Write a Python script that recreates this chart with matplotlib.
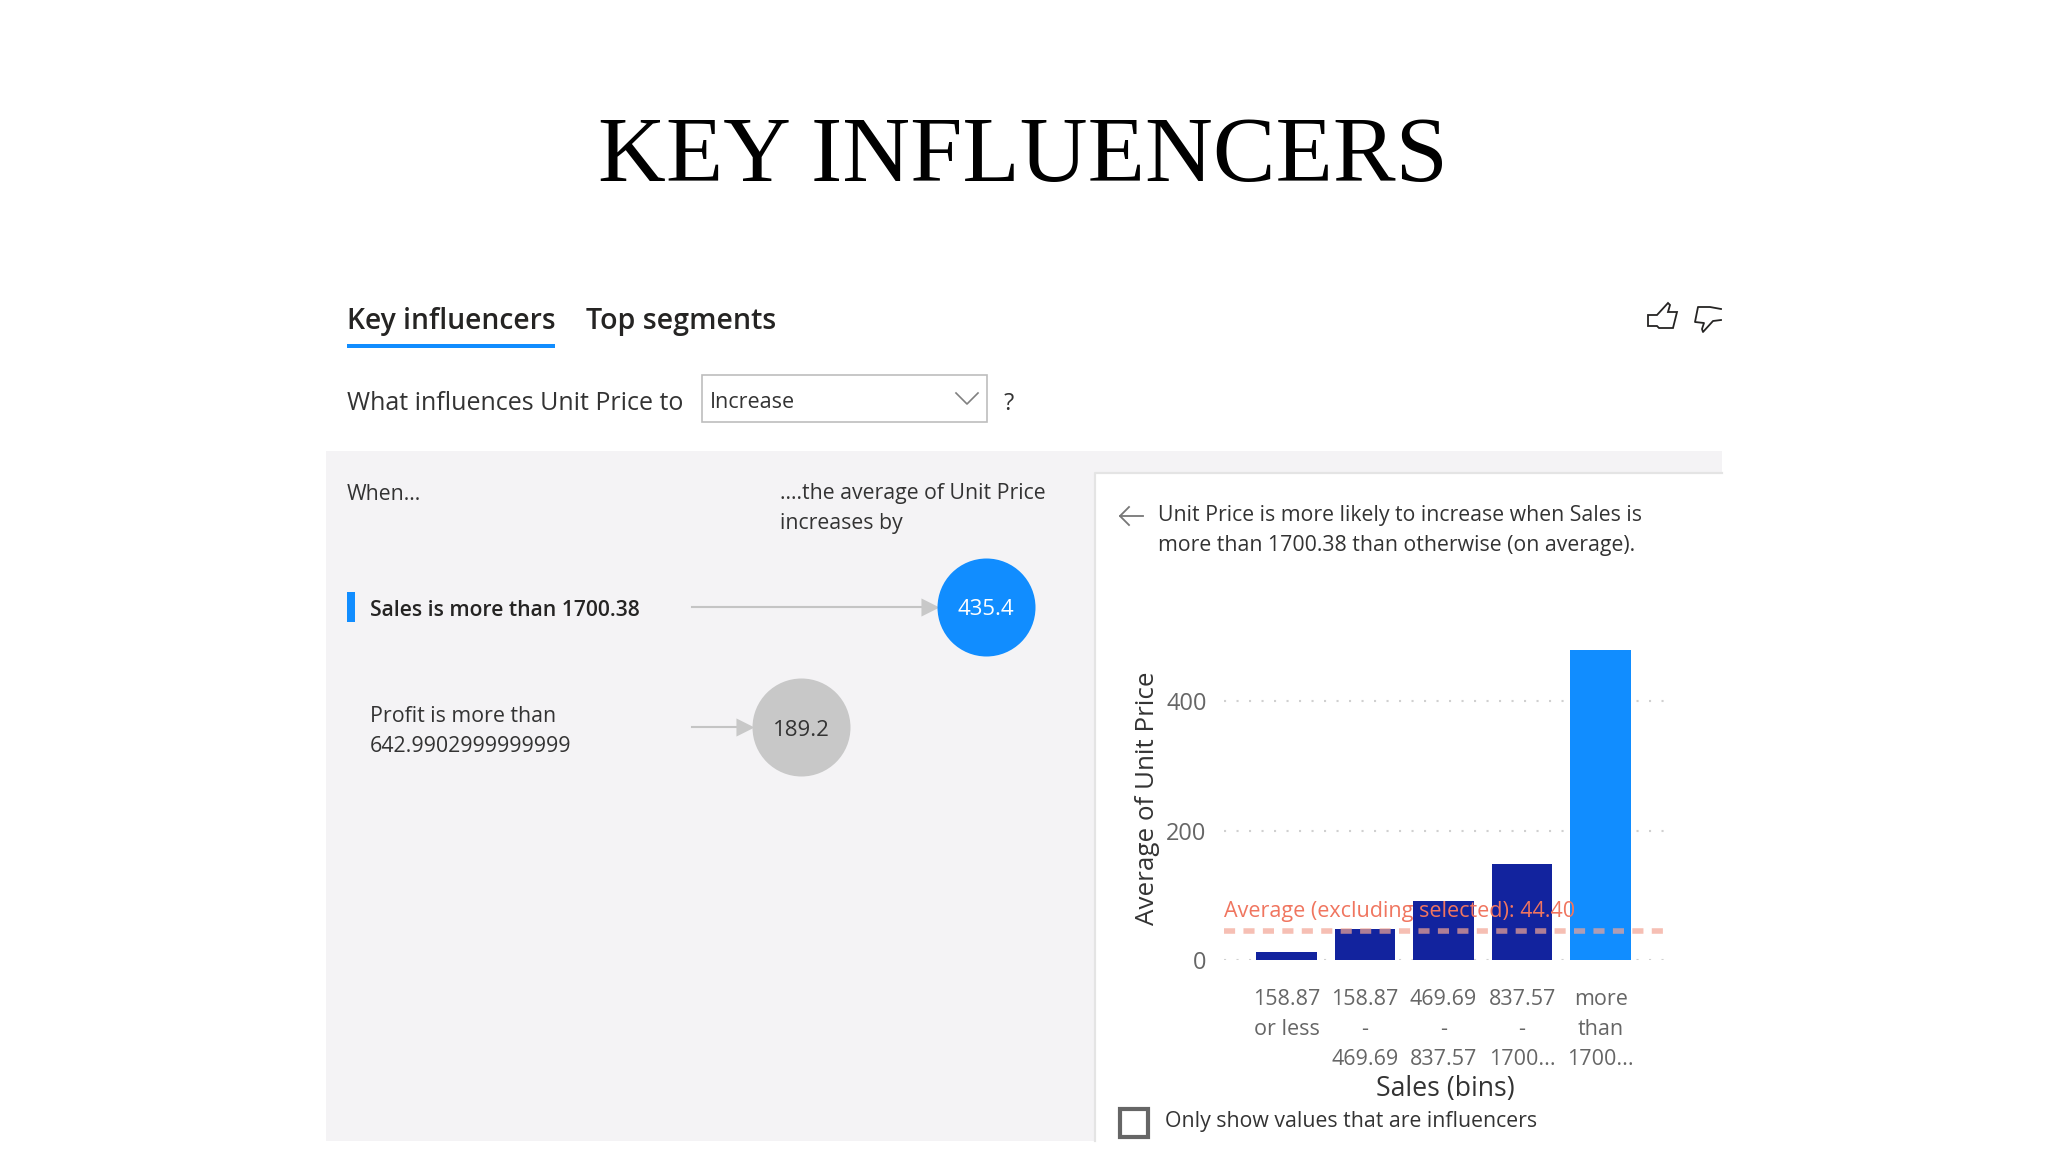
import matplotlib
matplotlib.use('Agg')
import matplotlib.pyplot as plt
from matplotlib.patches import Rectangle, Polygon

plt.rcParams['font.family'] = ['Open Sans', 'DejaVu Sans']

# bar chart values
bin_labels = ['158.87\nor less', '158.87\n-\n469.69', '469.69\n-\n837.57', '837.57\n-\n1700...', 'more\nthan\n1700...']
unit_price = [13, 48, 92, 149, 480]
selected_bin = 4
avg_excluding = 44.40
y_ticks = [0, 200, 400]

# influencers
influencer_values = [435.4, 189.2]
influencer_labels = ['Sales is more than 1700.38', 'Profit is more than\n642.9902999999999']

BLUE = '#118DFF'
NAVY = '#12239E'
GREY_BG = '#F4F3F5'
TXT = '#333333'
W, H = 2048, 1152

fig = plt.figure(figsize=(20.48, 11.52), dpi=100, facecolor='white')


def px_axes(x0, y0, x1, y1):
    # axes given by pixel corners, y measured from the top
    return fig.add_axes([x0 / W, 1 - y1 / H, (x1 - x0) / W, (y1 - y0) / H])


ui = fig.add_axes([0, 0, 1, 1])
ui.set_xlim(0, W)
ui.set_ylim(H, 0)
ui.axis('off')

ui.text(1023, 159, 'KEY INFLUENCERS', family='Liberation Serif', fontsize=67.6, ha='center', va='center', color='black')

# tabs
ui.text(347, 322, 'Key influencers', fontsize=20.3, weight='semibold', ha='left', va='center', color='#252423')
ui.text(586, 322, 'Top segments', fontsize=20.6, weight='semibold', ha='left', va='center', color='#252423')
ui.add_patch(Rectangle((347, 344), 208, 4, color=BLUE, lw=0))

# thumbs icons
up = [(1648, 315), (1657, 315), (1668, 303), (1670, 305), (1668, 312), (1677, 312), (1673, 328), (1659, 328), (1657, 326), (1648, 326)]
down = [(1721, 309), (1710, 307), (1698, 307), (1695, 322), (1704, 323), (1702, 329), (1703, 332), (1713, 321), (1721, 320)]
ui.add_patch(Polygon(up, closed=True, fill=False, ec='#252423', lw=1.3))
ui.plot(*zip(*down), color='#252423', lw=1.3)

# question row
ui.text(347, 404, 'What influences Unit Price to', fontsize=18, ha='left', va='center', color=TXT)
ui.add_patch(Rectangle((702, 375), 285, 47, fc='white', ec='#BDBDBD', lw=1.2))
ui.text(710, 403, 'Increase', fontsize=15.5, ha='left', va='center', color=TXT)
ui.plot([956, 967, 978], [393, 404, 393], color='#808080', lw=1.2)
ui.text(1009, 404, '?', fontsize=17, ha='center', va='center', color=TXT)

# panels
ui.add_patch(Rectangle((326, 451), 1396, 690, color=GREY_BG, lw=0))
ui.add_patch(Rectangle((1095, 473), 627, 668, fc='white', lw=0))
ui.plot([1095, 1095, 1722], [1141, 473, 473], color='#E4E4E4', lw=1.6)
ui.text(347, 494, 'When...', fontsize=15.3, ha='left', va='center', color=TXT)
ui.text(780, 494, '....the average of Unit Price', fontsize=15.3, ha='left', va='center', color=TXT)
ui.text(780, 524, 'increases by', fontsize=15.3, ha='left', va='center', color=TXT)

# influencer rows, x is the value scale of the bubbles
inf = px_axes(659, 560, 1095, 780)
inf.set_xlim(0, 436 / 0.7514)
inf.set_ylim(1.55, -0.45)
inf.axis('off')
row_px = [606.5, 727]
for i, v in enumerate(influencer_values):
    col = BLUE if i == 0 else '#C8C8C8'
    tc = 'white' if i == 0 else TXT
    y = (row_px[i] - 560) / 220 * 2 - 0.45
    inf.plot([44.5, v - 65 - 19], [y, y], color='#C4C4C4', lw=1.5, zorder=1)
    inf.scatter([v - 65 - 10], [y], marker='>', s=170, color='#C8C8C8', lw=0, zorder=2)
    inf.scatter([v], [y], s=4979, color=col, lw=0, zorder=3, clip_on=False)
    inf.text(v, y + 0.03, '%.1f' % v, color=tc, fontsize=16, ha='center', va='center', zorder=4)

ui.add_patch(Rectangle((347, 592), 8, 30, color=BLUE, lw=0))
ui.text(370, 611, influencer_labels[0], fontsize=15.2, weight='semibold', ha='left', va='center', color='#252423')
first, second = influencer_labels[1].split('\n')
ui.text(370, 716, first, fontsize=15.4, ha='left', va='center', color=TXT)
ui.text(370, 746, second, fontsize=15.4, ha='left', va='center', color=TXT)

# right panel text
ui.plot([1129, 1120, 1129], [507, 516, 525], color='#777777', lw=1.3)
ui.plot([1120, 1143], [516, 516], color='#777777', lw=1.3)
ui.text(1158, 516, 'Unit Price is more likely to increase when Sales is', fontsize=15.3, ha='left', va='center', color=TXT)
ui.text(1158, 546, 'more than 1700.38 than otherwise (on average).', fontsize=15.3, ha='left', va='center', color=TXT)

# bar chart
ax = px_axes(1224, 620, 1665, 960)
ax.patch.set_alpha(0)
xs = list(range(len(unit_price)))
colors = [BLUE if i == selected_bin else NAVY for i in xs]
ax.set_axisbelow(True)
ax.grid(axis='y', color='#D0D0D0', ls=(0, (1, 5)), lw=1.5)
ax.bar(xs, unit_price, width=0.77, color=colors, zorder=2)
ax.axhline(avg_excluding, color='#F3A594', ls=(0, (2, 1.5)), lw=4, zorder=3, alpha=0.7)
ax.text(-0.796, avg_excluding + 31, 'Average (excluding selected): %.2f' % avg_excluding, color='#F0755F', fontsize=15.5, ha='left', va='center', zorder=4)
ax.set_xlim(-0.796, 4.82)
ax.set_ylim(0, 526)
ax.set_yticks(y_ticks)
ax.set_xticks(xs)
ax.set_xticklabels(bin_labels, linespacing=1.55)
ax.tick_params(axis='both', length=0, labelsize=15.5, labelcolor='#666666')
ax.tick_params(axis='x', pad=21)
ax.tick_params(axis='y', pad=12.5, labelsize=17)
for lab in ax.get_yticklabels():
    lab.set_y(lab.get_position()[1])
for s in ax.spines.values():
    s.set_visible(False)

ui.text(1148, 798, 'Average of Unit Price', fontsize=18.7, rotation=90, ha='center', va='center', color='#333333')
ui.text(1445, 1089, 'Sales (bins)', fontsize=19.2, ha='center', va='center', color='#333333')

ui.add_patch(Rectangle((1120, 1109), 28, 28, fc='white', ec='#666666', lw=3))
ui.text(1165, 1122, 'Only show values that are influencers', fontsize=15.3, ha='left', va='center', color=TXT)

fig.savefig('out.png', dpi=100)
